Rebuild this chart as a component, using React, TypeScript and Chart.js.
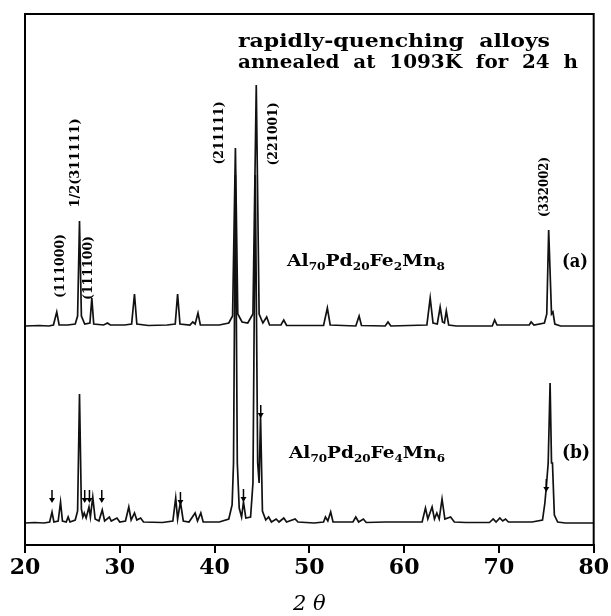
import React, { useEffect, useRef } from "react";
import { Chart, registerables } from "chart.js";

Chart.register(...registerables);

// ---- data (2θ in degrees, intensity in arbitrary units above each pattern's own baseline) ----
const X_MIN = 20;
const X_MAX = 80;
const X_TICKS = [20, 30, 40, 50, 60, 70, 80];
const Y_MAX = 531;

// vertical offsets of the two stacked patterns
const OFFSET_A = 219;
const OFFSET_B = 22;

// (a) Al70Pd20Fe2Mn8
const A_2THETA = [
  20.0, 21.5, 22.5, 23.0, 23.35, 23.6, 24.5, 25.3, 25.55, 25.75, 25.95, 26.3, 26.85, 27.05, 27.25,
  28.3, 28.7, 29.0, 30.5, 31.25, 31.55, 31.8, 33.0, 35.0, 35.85, 36.1, 36.35, 37.4, 37.7, 37.95,
  38.25, 38.5, 40.5, 41.5, 41.9, 42.2, 42.45, 42.9, 43.5, 44.05, 44.4, 44.7, 45.1, 45.5, 45.8,
  47.0, 47.3, 47.6, 51.5, 51.9, 52.2, 54.9, 55.25, 55.5, 58.0, 58.3, 58.6, 62.4, 62.75, 63.05,
  63.5, 63.8, 64.05, 64.25, 64.45, 64.7, 65.5, 69.3, 69.55, 69.8, 70.5, 73.2, 73.4, 73.7, 74.8,
  75.05, 75.25, 75.55, 75.7, 75.9, 76.5, 80.0,
];
const A_INT = [
  0, 0.5, 0, 1, 14, 1, 1, 2, 10, 105, 10, 2, 3, 28, 2,
  1, 3, 1, 1, 2, 32, 2, 0.5, 1, 2, 32, 2, 1, 4, 2,
  13, 1, 1, 3, 10, 178, 12, 4, 3, 12, 241, 12, 3, 9, 1,
  1, 6, 0.5, 0.5, 18, 1, 0, 10, 0.5, 0, 4, 0, 1, 28, 3,
  2, 19, 4, 3, 15, 1, 0, 0, 6, 1, 1, 1, 4, 1, 3,
  12, 96, 12, 14, 2, 0, 0,
];

// (b) Al70Pd20Fe4Mn6
const B_2THETA = [
  20.0, 21.0, 22.0, 22.6, 22.85, 23.05, 23.5, 23.75, 23.95, 24.35, 24.55, 24.75, 25.3, 25.55, 25.75,
  25.95, 26.1, 26.25, 26.45, 26.75, 26.9, 27.15, 27.4, 27.8, 28.15, 28.4, 28.9, 29.1, 29.7, 30.0,
  30.6, 30.95, 31.2, 31.55, 31.8, 32.2, 32.5, 34.5, 35.6, 35.9, 36.1, 36.4, 36.7, 37.3, 37.95,
  38.2, 38.55, 38.8, 40.5, 41.5, 41.85, 42.0, 42.2, 42.4, 42.6, 42.85, 43.05, 43.3, 43.8, 44.05,
  44.3, 44.55, 44.7, 44.85, 45.05, 45.4, 45.7, 46.0, 46.5, 46.8, 47.3, 47.6, 48.5, 48.8, 50.5,
  51.5, 51.7, 51.95, 52.25, 52.5, 54.6, 54.9, 55.2, 55.7, 56.0, 58.0, 61.9, 62.25, 62.5, 62.95,
  63.2, 63.45, 63.7, 64.0, 64.3, 64.9, 65.3, 66.5, 69.0, 69.4, 69.7, 70.1, 70.4, 70.7, 71.0,
  72.5, 73.5, 74.6, 74.85, 75.0, 75.2, 75.4, 75.55, 75.65, 75.85, 76.2, 77.0, 80.0,
];
const B_INT = [
  0, 0.5, 0, 1, 11, 1, 2, 21, 2, 1, 6, 1, 3, 12, 129,
  14, 6, 10, 5, 16, 6, 26, 4, 2, 13, 2, 6, 2, 5, 1,
  2, 16, 3, 10, 3, 5, 1, 0.5, 2, 25, 4, 21, 2, 1, 10,
  2, 10, 1, 1, 4, 18, 60, 348, 60, 15, 6, 21, 5, 6, 40,
  348, 60, 40, 108, 12, 3, 6, 1, 4, 1, 5, 1, 4, 1, 0,
  1, 6, 2, 11, 1, 1, 6, 1, 4, 0.5, 1, 1, 15, 4, 16,
  4, 10, 4, 24, 4, 6, 1, 0.5, 0.5, 4, 1, 5, 2, 4, 1,
  1, 1, 3, 20, 36, 60, 140, 60, 60, 8, 1, 0, 0,
];

// arrows marking extra reflections in (b): position and tip height above baseline (b)
const ARROW_B_2THETA = [22.85, 26.3, 26.8, 28.1, 36.4, 43.05, 44.87, 75.0];
const ARROW_B_TIP = [20, 20, 20, 20, 18, 21, 105, 31];

// Miller-index labels
const PEAK_LABELS = ["(111000)", "1/2(311111)", "(111100)", "(211111)", "(221001)", "(332002)"];
const TITLE_LINES = ["rapidly-quenching  alloys", "annealed  at  1093K  for  24  h"];
const X_TITLE = "2 θ";

const toPoints = (xs: number[], ys: number[], off: number) =>
  xs.map((x, i) => ({ x, y: ys[i] + off }));

const SERIF = '"DejaVu Serif", serif';

function fitText(ctx: CanvasRenderingContext2D, text: string, x: number, y: number, w: number) {
  const m = ctx.measureText(text).width;
  ctx.save();
  ctx.translate(x, y);
  ctx.scale(w / m, 1);
  ctx.fillText(text, 0, 0);
  ctx.restore();
}

function drawFormula(
  ctx: CanvasRenderingContext2D,
  parts: [string, string][],
  x: number,
  y: number,
  w: number
) {
  const big = `bold 17px ${SERIF}`;
  const small = `bold 11px ${SERIF}`;
  let total = 0;
  for (const [m, s] of parts) {
    ctx.font = big;
    total += ctx.measureText(m).width;
    ctx.font = small;
    total += ctx.measureText(s).width;
  }
  const k = w / total;
  ctx.save();
  ctx.translate(x, y);
  ctx.scale(k, 1);
  let cx = 0;
  for (const [m, s] of parts) {
    ctx.font = big;
    ctx.fillText(m, cx, 0);
    cx += ctx.measureText(m).width;
    ctx.font = small;
    ctx.fillText(s, cx, 4);
    cx += ctx.measureText(s).width;
  }
  ctx.restore();
}

const annotatePlugin = {
  id: "annotate",
  afterDraw(chart: any) {
    const ctx: CanvasRenderingContext2D = chart.ctx;
    const { left, right, top, bottom } = chart.chartArea;
    const xs = chart.scales.x;
    const ys = chart.scales.y;
    ctx.save();
    ctx.strokeStyle = "#000";
    ctx.fillStyle = "#000";
    ctx.lineWidth = 2;
    ctx.strokeRect(left, top, right - left, bottom - top);

    // arrows
    ctx.lineWidth = 1.5;
    ARROW_B_2THETA.forEach((t, i) => {
      const px = xs.getPixelForValue(t);
      const py = ys.getPixelForValue(ARROW_B_TIP[i] + OFFSET_B);
      ctx.beginPath();
      ctx.moveTo(px, py - 13);
      ctx.lineTo(px, py - 4);
      ctx.stroke();
      ctx.beginPath();
      ctx.moveTo(px - 3, py - 5);
      ctx.lineTo(px + 3, py - 5);
      ctx.lineTo(px, py);
      ctx.closePath();
      ctx.fill();
    });

    // title lines
    ctx.textAlign = "left";
    ctx.textBaseline = "alphabetic";
    ctx.font = `bold 18px ${SERIF}`;
    fitText(ctx, TITLE_LINES[0], 238, 47, 312);
    fitText(ctx, TITLE_LINES[1], 238, 68, 340);

    // rotated peak labels
    const rot: [number, number, number][] = [
      [61, 266, 64],
      [76, 163, 89],
      [89, 268, 64],
      [220, 133, 63],
      [274, 134, 63],
      [545, 187, 60],
    ];
    ctx.font = `bold 12px ${SERIF}`;
    ctx.textBaseline = "middle";
    PEAK_LABELS.forEach((lab, i) => {
      const [cx, cy, len] = rot[i];
      ctx.save();
      ctx.translate(cx, cy);
      ctx.rotate(-Math.PI / 2);
      fitText(ctx, lab, -len / 2, 0, len);
      ctx.restore();
    });

    // formulas and pattern tags
    ctx.textBaseline = "alphabetic";
    drawFormula(ctx, [["Al", "70"], ["Pd", "20"], ["Fe", "2"], ["Mn", "8"]], 287, 266, 158);
    drawFormula(ctx, [["Al", "70"], ["Pd", "20"], ["Fe", "4"], ["Mn", "6"]], 289, 458, 156);
    ctx.font = `bold 18px ${SERIF}`;
    fitText(ctx, "(a)", 562, 267, 26);
    fitText(ctx, "(b)", 562, 458, 28);

    // x title
    ctx.font = `italic 21px ${SERIF}`;
    ctx.textAlign = "center";
    ctx.textBaseline = "middle";
    ctx.fillText(X_TITLE, (left + right) / 2, 605);
    ctx.restore();
  },
};

export default function App() {
  const ref = useRef<HTMLCanvasElement | null>(null);
  useEffect(() => {
    if (!ref.current) return;
    const chart = new Chart(ref.current, {
      type: "line",
      data: {
        datasets: [
          {
            label: "Al70Pd20Fe2Mn8",
            data: toPoints(A_2THETA, A_INT, OFFSET_A),
            borderColor: "#111",
            borderWidth: 1.7,
            pointRadius: 0,
            tension: 0,
            fill: false,
          },
          {
            label: "Al70Pd20Fe4Mn6",
            data: toPoints(B_2THETA, B_INT, OFFSET_B),
            borderColor: "#111",
            borderWidth: 1.7,
            pointRadius: 0,
            tension: 0,
            fill: false,
          },
        ],
      },
      options: {
        responsive: false,
        animation: false,
        layout: { padding: { left: 25, right: 17, top: 14, bottom: 0 } },
        plugins: { legend: { display: false }, tooltip: { enabled: false } },
        scales: {
          x: {
            type: "linear",
            min: X_MIN,
            max: X_MAX,
            afterFit: (s: any) => {
              s.height = 71;
            },
            afterBuildTicks: (s: any) => {
              s.ticks = X_TICKS.map((v) => ({ value: v }));
            },
            ticks: {
              autoSkip: false,
              maxRotation: 0,
              color: "#000",
              padding: 2,
              font: { family: SERIF, size: 22, weight: "bold" },
            },
            grid: {
              drawOnChartArea: false,
              drawTicks: true,
              tickLength: 8,
              color: "#000",
              lineWidth: 2,
            },
            border: { display: true, color: "#000", width: 2 },
          },
          y: { display: false, min: 0, max: Y_MAX },
        },
      },
      plugins: [annotatePlugin],
    } as any);
    return () => chart.destroy();
  }, []);
  return (
    <div style={{ position: "absolute", left: 0, top: 0, width: 611, height: 616, background: "#fff" }}>
      <canvas ref={ref} width={611} height={616} style={{ display: "block" }} />
    </div>
  );
}
